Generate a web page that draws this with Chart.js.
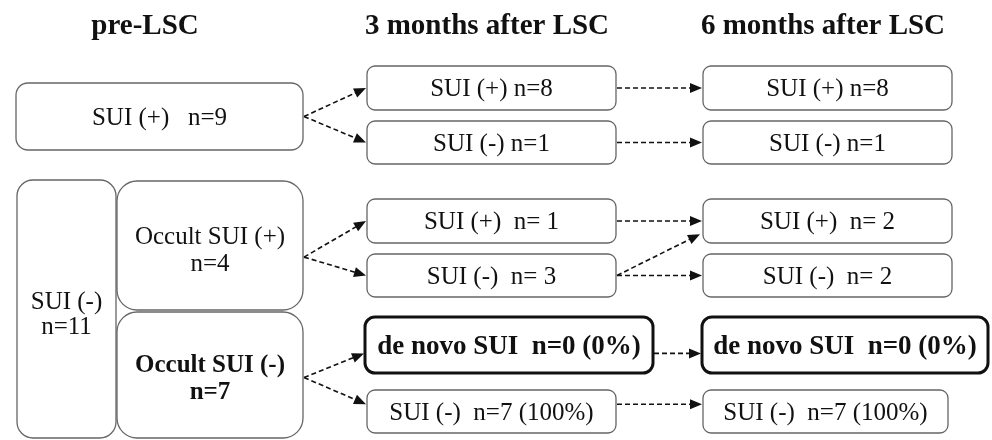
<!DOCTYPE html>
<html>
<head>
<meta charset="utf-8">
<script src="https://cdn.jsdelivr.net/npm/chart.js@4.4.1/dist/chart.umd.min.js"></script>
<style>
  html, body { margin: 0; padding: 0; background: #ffffff; }
  #wrap { width: 992px; height: 440px; }
</style>
</head>
<body>
<div id="wrap"><canvas id="c" width="992" height="440"></canvas></div>
<script>
// ---------------- DATA ----------------
const stageTitles = ['pre-LSC', '3 months after LSC', '6 months after LSC'];
const preLabels = ['SUI (+)', 'SUI (-)', 'Occult SUI (+)', 'Occult SUI (-)'];
const preCounts = [9, 11, 4, 7];
const followLabels = ['SUI (+)', 'SUI (-)', 'SUI (+)', 'SUI (-)', 'de novo SUI', 'SUI (-)'];
const month3Counts = [8, 1, 1, 3, 0, 7];
const month6Counts = [8, 1, 2, 2, 0, 7];
// transitions between groups: [from, to]
const transitions = [
  ['pre0', 'm3_0'], ['pre0', 'm3_1'],
  ['pre2', 'm3_2'], ['pre2', 'm3_3'],
  ['pre3', 'm3_4'], ['pre3', 'm3_5'],
  ['m3_0', 'm6_0'], ['m3_1', 'm6_1'],
  ['m3_2', 'm6_2'], ['m3_3', 'm6_2'], ['m3_3', 'm6_3'],
  ['m3_4', 'm6_4'], ['m3_5', 'm6_5']
];

// ---------------- LAYOUT (chart units) ----------------
const titleX = [145, 487, 823];
const titleY = 34;
const preBoxes = [
  { x0: 16, x1: 303, y0: 83, y1: 150, r: 12, port: 0.5 },
  { x0: 17, x1: 116, y0: 180, y1: 438, r: 16, port: 0.5, dy: 4 },
  { x0: 117, x1: 303, y0: 181, y1: 310, r: 20, port: 0.59, dy: 4 },
  { x0: 117, x1: 303, y0: 312, y1: 438, r: 20, port: 0.52, dy: 2 }
];
const rowSpans = [[66, 110], [121, 164], [199, 243], [254, 297], [317, 373], [390, 433]];
const rowInPort = [0.5, 0.5, 0.5, 0.5, 0.65, 0.33];
const rowOutPort = [0.5, 0.5, 0.5, 0.5, 0.65, 0.33];
const m3X = [[367, 616], [367, 616], [367, 616], [367, 616], [365, 653], [367, 616]];
const m6X = [[703, 952], [703, 952], [703, 952], [703, 952], [702, 988], [703, 948]];
const boldRow = 4;

const FONT = '"Liberation Serif", "Times New Roman", Times, serif';

function followText(row, n) {
  const lab = followLabels[row];
  if (row < 2) return lab + ' n=' + n;
  if (row < 4) return lab + '  n= ' + n;
  const pct = Math.round(n / preCounts[3] * 100);
  return lab + '  n=' + n + ' (' + pct + '%)';
}

const nodes = {};
preBoxes.forEach((b, i) => {
  let lines;
  if (i === 0) lines = [preLabels[0] + '   n=' + preCounts[0]];
  else lines = [preLabels[i], 'n=' + preCounts[i]];
  nodes['pre' + i] = Object.assign({}, b, {
    lines, bold: i === 3, size: 25, gap: i === 1 ? 25 : 27,
    inPort: b.port, outPort: b.port, thick: false
  });
});
rowSpans.forEach((s, r) => {
  const bold = r === boldRow;
  nodes['m3_' + r] = {
    x0: m3X[r][0], x1: m3X[r][1], y0: s[0], y1: s[1], r: bold ? 10 : 8,
    lines: [followText(r, month3Counts[r])], bold, thick: bold, size: bold ? 27 : 25,
    inPort: rowInPort[r], outPort: rowOutPort[r]
  };
  nodes['m6_' + r] = {
    x0: m6X[r][0], x1: m6X[r][1], y0: s[0], y1: s[1], r: bold ? 10 : 8,
    lines: [followText(r, month6Counts[r])], bold, thick: bold, size: bold ? 27 : 25,
    inPort: rowInPort[r], outPort: rowOutPort[r]
  };
});

function roundRect(ctx, x, y, w, h, r) {
  ctx.beginPath();
  ctx.moveTo(x + r, y);
  ctx.lineTo(x + w - r, y);
  ctx.arcTo(x + w, y, x + w, y + r, r);
  ctx.lineTo(x + w, y + h - r);
  ctx.arcTo(x + w, y + h, x + w - r, y + h, r);
  ctx.lineTo(x + r, y + h);
  ctx.arcTo(x, y + h, x, y + h - r, r);
  ctx.lineTo(x, y + r);
  ctx.arcTo(x, y, x + r, y, r);
  ctx.closePath();
}

const flowPlugin = {
  id: 'flow',
  afterDatasetsDraw(chart) {
    const { ctx, scales } = chart;
    const px = v => scales.x.getPixelForValue(v);
    const py = v => scales.y.getPixelForValue(v);
    ctx.save();
    // titles
    ctx.fillStyle = '#111';
    ctx.textAlign = 'center';
    ctx.textBaseline = 'alphabetic';
    ctx.font = 'bold 29px ' + FONT;
    stageTitles.forEach((t, i) => ctx.fillText(t, px(titleX[i]), py(titleY)));

    // boxes
    Object.values(nodes).forEach(n => {
      const X0 = px(n.x0), X1 = px(n.x1), Y0 = py(n.y0), Y1 = py(n.y1);
      roundRect(ctx, X0, Y0, X1 - X0, Y1 - Y0, n.r);
      ctx.fillStyle = '#fff';
      ctx.fill();
      ctx.lineWidth = n.thick ? 3 : 1.3;
      ctx.strokeStyle = n.thick ? '#111' : '#666666';
      ctx.setLineDash([]);
      ctx.stroke();
      ctx.fillStyle = '#111';
      ctx.font = (n.bold ? 'bold ' : '') + n.size + 'px ' + FONT;
      const cx = (X0 + X1) / 2, cy = (Y0 + Y1) / 2 + (n.dy || 0);
      const capH = n.size * 0.66;
      const g = n.gap || 0;
      const b1 = cy - (g * (n.lines.length - 1) - capH) / 2;
      n.lines.forEach((l, k) => ctx.fillText(l, cx, b1 + k * g));
    });

    // arrows
    ctx.strokeStyle = '#111';
    ctx.fillStyle = '#111';
    ctx.lineWidth = 1.6;
    transitions.forEach(([a, b]) => {
      const s = nodes[a], t = nodes[b];
      const sx = px(s.x1) + 1, sy = py(s.y0 + (s.y1 - s.y0) * s.outPort);
      let tPort = t.inPort, tx = px(t.x0) - 1;
      if (a === 'm3_3' && b === 'm6_2') { tPort = 0.8; tx = px(t.x0) - 3; }
      const ty = py(t.y0 + (t.y1 - t.y0) * tPort);
      const dx = tx - sx, dy = ty - sy, len = Math.hypot(dx, dy);
      const ux = dx / len, uy = dy / len;
      const hl = 12, hw = 5;
      const bx = tx - ux * hl, by = ty - uy * hl;
      ctx.setLineDash([5, 3]);
      ctx.beginPath();
      ctx.moveTo(sx, sy);
      ctx.lineTo(bx + ux * 2, by + uy * 2);
      ctx.stroke();
      ctx.setLineDash([]);
      ctx.beginPath();
      ctx.moveTo(tx, ty);
      ctx.lineTo(bx - uy * hw, by + ux * hw);
      ctx.lineTo(bx + uy * hw, by - ux * hw);
      ctx.closePath();
      ctx.fill();
    });
    ctx.restore();
  }
};

const centers = Object.values(nodes).map(n => ({ x: (n.x0 + n.x1) / 2, y: (n.y0 + n.y1) / 2 }));

new Chart(document.getElementById('c'), {
  type: 'scatter',
  data: { datasets: [{ data: centers, pointRadius: 0, pointHoverRadius: 0, showLine: false }] },
  options: {
    responsive: false,
    animation: false,
    devicePixelRatio: 1,
    layout: { padding: 0 },
    plugins: { legend: { display: false }, tooltip: { enabled: false } },
    events: [],
    scales: {
      x: { type: 'linear', min: 0, max: 992, display: false },
      y: { type: 'linear', min: 0, max: 440, reverse: true, display: false }
    }
  },
  plugins: [flowPlugin]
});
</script>
</body>
</html>
